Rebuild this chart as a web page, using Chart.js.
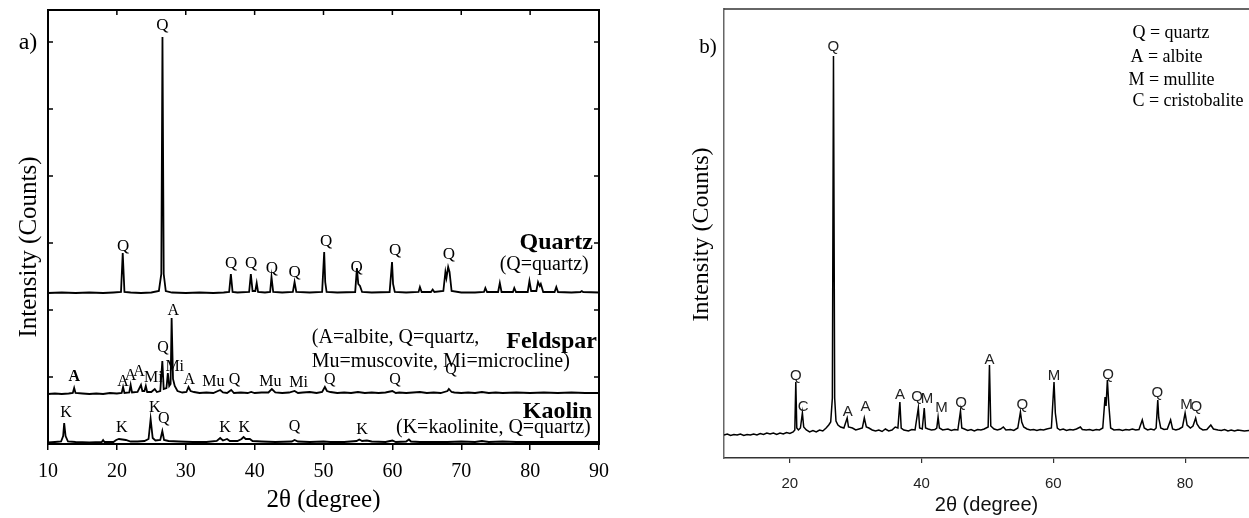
<!DOCTYPE html>
<html>
<head>
<meta charset="utf-8">
<script src="https://cdn.jsdelivr.net/npm/chart.js@4.4.0/dist/chart.umd.min.js"></script>
<style>
    html, body { margin: 0; padding: 0; background: #fff; overflow: hidden; width: 1249px; height: 518px; }
    canvas { position: absolute; top: 0; }
    #chartA { left: 0; }
    #chartB { left: 620px; }
</style>
</head>
<body>
<canvas id="chartA" width="620" height="518"></canvas>
<canvas id="chartB" width="629" height="518"></canvas>
<script>
/* ============================================
   XRD PATTERNS - a) raw materials, b) fired body
   ============================================ */

const serif = "'Liberation Serif', 'Times New Roman', serif";
const sans = "'Liberation Sans', Arial, sans-serif";

// Axis ticks
const xTicksA = [10, 20, 30, 40, 50, 60, 70, 80, 90];
const yTicksA = [67, 134, 201, 268, 335, 402];   // unlabelled inner ticks
const xTicksB = [20, 40, 60, 80];

// Panel a) patterns, [2theta, intensity] (traces already stacked)
const quartzA = [
    [10,151],[12,151.5],[14,151],[16,151.5],[18,151],[19.5,151.5],[20.6,152],[20.85,191],[21.1,152],
    [22,151.5],[23.5,151],[25,151.5],[26.1,153],[26.45,170],[26.62,407],[26.8,170],[27.1,153],
    [28,151.5],[30,151],[32,151.5],[34,151],[35.5,151.5],[36.3,152],[36.55,170],[36.8,152],
    [37.5,151.5],[39.2,152],[39.45,170],[39.7,153],[40.1,153],[40.3,161],[40.5,152],[41.5,151.5],
    [42.25,152],[42.45,167],[42.7,152],[44,151.5],[45.55,152],[45.8,162],[46.05,152],[48,151.5],
    [49.8,152],[50.1,192],[50.25,162],[50.45,152],[52,151.5],[54.6,152],[54.85,176],[55.05,160],
    [55.3,158],[55.6,152],[57,151.5],[59.6,152],[59.95,182],[60.1,160],[60.35,152],[62,151.5],
    [63.8,152],[64.0,157],[64.25,152],[65.6,152],[65.85,154.5],[66.1,152],[67.4,153],[67.7,172],
    [67.85,166],[68.1,177],[68.3,172],[68.6,153],[70,151.5],[72,151.5],[73.3,152],[73.5,156],
    [73.75,152],[75.35,152],[75.6,161],[75.85,152],[77.5,152],[77.7,156],[77.95,152],[79.65,152],
    [79.9,163],[80.15,153],[80.9,153],[81.15,162],[81.4,158],[81.55,160],[81.9,152],[83.55,152],
    [83.8,157],[84.05,152],[86,151.5],[87.3,152],[87.5,153],[87.7,152],[90,151.5]
];
const feldsparA = [
    [10,50],[11,50.5],[12,50],[13,50.5],[13.6,51],[13.8,56],[14.0,51],[15,50.5],[16,50],[17,50.5],
    [18,50],[19,51],[20,50.5],[20.7,51],[20.9,57],[21.1,51],[21.8,51.5],[22.0,59],[22.2,51.5],
    [23.0,52],[23.5,59],[23.7,53],[24.0,53],[24.2,58],[24.4,52],[25.0,52],[25.5,55],[25.8,52],
    [26.3,53],[26.6,83],[26.8,55],[27.2,56],[27.4,71],[27.6,58],[27.8,60],[27.95,126],[28.15,65],
    [28.4,58],[28.8,53],[29.5,51.5],[30.1,52],[30.4,57],[30.7,53],[31.2,52],[32,51],[33,51.5],
    [34,51],[35,54],[35.4,51.5],[36,51],[36.6,54],[37,51],[38,51.5],[39,51],[39.5,52],[40,51],
    [41,51.5],[42,51.5],[42.5,55],[43,51.5],[44,51],[45,51.5],[45.8,53],[46.3,51],[47,51.5],
    [48,52],[49,51],[49.8,52],[50.2,57],[50.5,53],[51,52],[52,51],[53,51.5],[54,51],[55,52],
    [56,51],[57,51.5],[58,51],[59,51.5],[60,53],[60.5,51],[61,51.5],[62,51],[63,51.5],[64,52],
    [65,51],[66,51.5],[67,51],[68,53],[68.2,55],[68.6,52],[69,51.5],[70,51],[71,51.5],[72,51],
    [73,52],[74,51],[75,51.5],[76,51],[78,51.5],[80,51],[82,51.5],[84,51],[86,51.5],[88,51],[90,51]
];
const kaolinA = [
    [10,1.5],[11,2],[11.9,2.5],[12.2,8],[12.35,21],[12.55,8],[12.9,2.5],[14,2],[16,1.5],[17.8,2],
    [18.0,4],[18.2,2],[19.5,2],[19.9,4],[20.3,5],[20.8,4.5],[21.3,4],[22,2.5],[23,2.5],[24,3],
    [24.6,5],[24.9,25],[25.2,6],[25.6,3.5],[26.3,4],[26.6,13],[26.85,4],[27.5,3],[29,2.5],[31,2],
    [33,2],[34.5,3],[35,6],[35.4,3.5],[36,5],[36.4,3],[37.5,3],[38.1,5],[38.4,7],[38.7,5],[39.3,5],
    [39.7,3],[41,2.5],[43,2],[45.4,2.5],[45.8,4],[46.3,2.5],[48,2],[50,2.5],[51,2],[53,2],[54.8,3],
    [55.2,4.5],[55.6,3],[56.3,3.5],[57,2.5],[59,2],[60,3.5],[60.5,2],[62,2.5],[62.4,4.5],[62.7,2.5],
    [64,2],[66,2],[68,2],[70,2.5],[72,2],[73,3],[74,2],[76,2.5],[78,2],[80,2],[82,2],[84,2],
    [86,2],[88,2],[90,2]
];

// Panel b) pattern, [2theta, intensity]
const sampleB = [
    [10,23],[10.5,24],[11,22.5],[11.5,23.5],[12,23],[12.5,24],[13,22.5],[13.5,23.5],[14,23],
    [14.5,24],[15,23],[15.5,24.5],[16,23.5],[16.5,25],[17,24],[17.5,25],[18,23.5],[18.5,25],
    [19,24],[19.5,25.5],[20,24.5],[20.5,26],[20.75,28],[20.9,76],[21.05,30],[21.3,28],[21.6,30],
    [21.9,45],[22.1,31],[22.5,28],[23,26],[23.5,27.5],[24,26],[24.5,28],[25,27],[25.5,30],
    [25.9,33],[26.2,36],[26.45,60],[26.62,402],[26.8,60],[27.0,37],[27.3,33],[27.7,31],[28.2,30],
    [28.7,40],[28.9,31],[29.5,30],[30,28],[30.5,29],[31,30],[31.3,40],[31.6,31],[32,30],[32.5,28],
    [33,27],[33.5,28],[34,26.5],[34.5,29],[35,27],[35.5,28],[36,31],[36.4,30],[36.7,56],[36.9,30],
    [37.3,28],[38,27],[38.5,28.5],[39,28],[39.5,50],[39.7,30],[40.1,29],[40.4,50],[40.6,30],
    [41,29],[41.5,28],[42,28.5],[42.3,30],[42.5,41],[42.7,30],[43.2,28],[44,29],[44.5,27.5],
    [45,28.5],[45.5,28],[45.9,47],[46.1,30],[46.5,29],[47,27.5],[47.5,28.5],[48,27],[48.5,28.5],
    [49,28],[49.5,29],[50.1,31],[50.3,93],[50.5,32],[51,29],[51.5,28],[52,29],[52.4,31],[52.8,28],
    [53.5,28.5],[54,27.5],[54.6,30],[55.0,46],[55.2,36],[55.5,31],[56,29],[56.5,28],[57,28.5],
    [57.5,27.5],[58,28.5],[58.5,28],[59,29],[59.7,30],[60.1,76],[60.3,45],[60.6,30],[61,28],
    [61.5,29],[62,27.5],[62.5,28.5],[63,28],[63.5,29],[64.1,31],[64.4,28.5],[65,28],[65.5,28.5],
    [66,27.5],[66.5,28.5],[67,28],[67.5,30],[67.85,61],[68.0,52],[68.2,78],[68.4,55],[68.7,30],
    [69.2,28],[70,28.5],[70.5,27.5],[71,28.5],[71.5,28],[72,29],[72.5,28],[73,28.5],[73.5,38],
    [73.8,30],[74.3,28],[74.8,29],[75.3,28],[75.6,30],[75.85,58],[76.0,40],[76.3,30],[76.8,28.5],
    [77.3,29],[77.8,38],[78.1,29],[78.6,28],[79.1,29],[79.6,31],[80.0,45],[80.3,33],[80.8,30],
    [81.2,32],[81.6,40],[81.8,34],[82.2,30],[82.7,28],[83.3,28.5],[83.9,33],[84.3,29],[85,28],
    [85.5,27.5],[86,28.5],[86.5,27],[87,28],[87.5,27],[88,28],[88.5,27.5],[89,27],[89.7,27.5]
];

// Phase labels, [2theta, intensity, text]
const peakLabelsQuartz = [
    [26.6,418,'Q'],[20.9,197,'Q'],[36.6,180,'Q'],[39.5,180,'Q'],[42.5,175,'Q'],[45.8,171,'Q'],
    [50.4,202,'Q'],[54.8,176,'Q'],[60.4,193,'Q'],[68.2,189,'Q']
];
const peakLabelsFeldspar = [
    [13.8,67,'A'],[20.9,62,'A'],[22.0,68,'A'],[23.2,72,'A'],[25.3,66,'Mi'],[26.7,96,'Q'],
    [28.4,77,'Mi'],[28.2,133,'A'],[30.5,64,'A'],[34.0,62,'Mu'],[37.1,64,'Q'],[42.3,62,'Mu'],
    [46.4,61,'Mi'],[50.9,64,'Q'],[60.4,64,'Q'],[68.5,74,'Q']
];
const peakLabelsKaolin = [
    [12.6,31,'K'],[20.7,16,'K'],[25.5,36,'K'],[26.8,25,'Q'],[35.7,16,'K'],[38.5,16,'K'],
    [45.8,17,'Q'],[55.6,14,'K']
];
const peakLabelsB = [
    [26.6,411,'Q'],[20.9,82,'Q'],[22.0,51,'C'],[28.8,46,'A'],[31.5,51,'A'],[36.7,63,'A'],
    [39.3,61,'Q'],[40.8,59,'M'],[43.0,50,'M'],[46.0,55,'Q'],[50.3,98,'A'],[55.3,53,'Q'],
    [60.1,82,'M'],[68.3,83,'Q'],[75.8,65,'Q'],[80.2,53,'M'],[81.7,51,'Q']
];

// Sample names and keys in panel a), [text, 2theta, intensity]
const sampleNames = [['Quartz', 89.1, 201], ['Feldspar', 89.7, 102], ['Kaolin', 89.0, 32]];
const sampleKeys = [
    ['(Q=quartz)', 88.5, 179, 'right'],
    ['(A=albite, Q=quartz,', 48.3, 106, 'left'],
    ['Mu=muscovite, Mi=microcline)', 48.3, 82, 'left'],
    ['(K=kaolinite, Q=quartz)', 88.8, 16, 'right']
];
// Legend in panel b), [text, 2theta, intensity]
const legendB = [
    ['Q = quartz', 72.0, 425], ['A = albite', 71.7, 401],
    ['M = mullite', 71.4, 378], ['C = cristobalite', 72.0, 357]
];

function toXY(points) {
    return points.map(p => ({ x: p[0], y: p[1] }));
}

function drawText(ctx, text, x, y, font, align, color) {
    ctx.font = font;
    ctx.fillStyle = color || '#000';
    ctx.textAlign = align || 'center';
    ctx.textBaseline = 'middle';
    ctx.fillText(text, x, y);
}

function drawRotated(ctx, text, x, y, font, color) {
    ctx.save();
    ctx.translate(x, y);
    ctx.rotate(-Math.PI / 2);
    drawText(ctx, text, 0, 0, font, 'center', color);
    ctx.restore();
}

const traceStyle = { borderColor: '#000', pointRadius: 0, tension: 0, fill: false };

// Frame, inner ticks and annotations for panel a)
const decorA = {
    id: 'decorA',
    afterDraw(chart) {
        const { ctx, chartArea: a, scales: { x, y } } = chart;
        ctx.save();
        ctx.strokeStyle = '#000';
        ctx.lineWidth = 2;
        ctx.strokeRect(a.left, a.top, a.right - a.left, a.bottom - a.top);
        ctx.lineWidth = 1.5;
        ctx.beginPath();
        xTicksA.forEach(v => {
            const px = x.getPixelForValue(v);
            ctx.moveTo(px, a.top);
            ctx.lineTo(px, a.top + 5);
        });
        yTicksA.forEach(v => {
            const py = y.getPixelForValue(v);
            ctx.moveTo(a.left, py);
            ctx.lineTo(a.left + 5, py);
            ctx.moveTo(a.right, py);
            ctx.lineTo(a.right - 5, py);
        });
        ctx.stroke();

        peakLabelsQuartz.forEach(([t, v, s]) => {
            drawText(ctx, s, x.getPixelForValue(t), y.getPixelForValue(v), '17px ' + serif);
        });
        peakLabelsFeldspar.forEach(([t, v, s], i) => {
            const font = (i === 0 ? 'bold ' : '') + '16px ' + serif;
            drawText(ctx, s, x.getPixelForValue(t), y.getPixelForValue(v), font);
        });
        peakLabelsKaolin.forEach(([t, v, s]) => {
            drawText(ctx, s, x.getPixelForValue(t), y.getPixelForValue(v), '16px ' + serif);
        });
        sampleNames.forEach(([s, t, v]) => {
            drawText(ctx, s, x.getPixelForValue(t), y.getPixelForValue(v), 'bold 24px ' + serif, 'right');
        });
        sampleKeys.forEach(([s, t, v, align]) => {
            drawText(ctx, s, x.getPixelForValue(t), y.getPixelForValue(v), '20px ' + serif, align);
        });

        drawText(ctx, 'a)', a.left - 20, a.top + 33, '24px ' + serif);
        drawRotated(ctx, 'Intensity (Counts)', a.left - 19, (a.top + a.bottom) / 2 + 20, '25px ' + serif);
        ctx.restore();
    }
};

// Top line and annotations for panel b)
const decorB = {
    id: 'decorB',
    afterDraw(chart) {
        const { ctx, chartArea: a, scales: { x, y } } = chart;
        ctx.save();
        ctx.strokeStyle = '#333';
        ctx.lineWidth = 1.5;
        ctx.beginPath();
        ctx.moveTo(a.left, a.top);
        ctx.lineTo(a.right, a.top);
        ctx.stroke();

        peakLabelsB.forEach(([t, v, s]) => {
            drawText(ctx, s, x.getPixelForValue(t), y.getPixelForValue(v), '15px ' + sans, 'center', '#222');
        });
        legendB.forEach(([s, t, v]) => {
            drawText(ctx, s, x.getPixelForValue(t), y.getPixelForValue(v), '18px ' + serif, 'left');
        });

        drawText(ctx, 'b)', a.left - 16, a.top + 38, '21px ' + serif);
        drawRotated(ctx, 'Intensity (Counts)', a.left - 22, (a.top + a.bottom) / 2 + 1, '24px ' + serif);
        ctx.restore();
    }
};

new Chart(document.getElementById('chartA'), {
    type: 'line',
    data: {
        datasets: [quartzA, feldsparA, kaolinA].map(d => ({ ...traceStyle, data: toXY(d), borderWidth: 1.8 }))
    },
    options: {
        responsive: false,
        animation: false,
        events: [],
        layout: { padding: { top: 10, right: 21, left: 0, bottom: 0 } },
        plugins: { legend: { display: false }, tooltip: { enabled: false } },
        scales: {
            x: {
                type: 'linear', min: 10, max: 90,
                afterBuildTicks: s => { s.ticks = xTicksA.map(v => ({ value: v })); },
                afterFit: s => { s.height = 74; },
                grid: { drawOnChartArea: false, tickLength: 6, color: '#000', lineWidth: 1.5 },
                border: { display: false },
                ticks: { color: '#000', padding: 10, autoSkip: false, maxRotation: 0, font: { family: serif, size: 20 } },
                title: { display: true, text: '2θ (degree)', color: '#000', font: { family: serif, size: 25 }, padding: { top: 0, bottom: 3 } }
            },
            y: {
                min: 0, max: 434,
                afterFit: s => { s.width = 48; },
                grid: { display: false },
                border: { display: false },
                ticks: { display: false }
            }
        }
    },
    plugins: [decorA]
});

new Chart(document.getElementById('chartB'), {
    type: 'line',
    data: {
        datasets: [{ ...traceStyle, data: toXY(sampleB), borderWidth: 1.5 }]
    },
    options: {
        responsive: false,
        animation: false,
        events: [],
        layout: { padding: { top: 9, right: 0, left: 0, bottom: 0 } },
        plugins: { legend: { display: false }, tooltip: { enabled: false } },
        scales: {
            x: {
                type: 'linear', min: 10, max: 89.7,
                afterBuildTicks: s => { s.ticks = xTicksB.map(v => ({ value: v })); },
                afterFit: s => { s.height = 60; },
                grid: { drawOnChartArea: false, tickLength: 5, color: '#333', lineWidth: 1.2 },
                border: { display: true, color: '#333', width: 1.5 },
                ticks: { color: '#222', padding: 12, autoSkip: false, maxRotation: 0, font: { family: sans, size: 15 } },
                title: { display: true, text: '2θ (degree)', color: '#111', font: { family: sans, size: 20 }, padding: { top: 0, bottom: 1 } }
            },
            y: {
                min: 0, max: 449,
                afterFit: s => { s.width = 104; },
                grid: { display: false },
                border: { display: true, color: '#666', width: 1.5 },
                ticks: { display: false }
            }
        }
    },
    plugins: [decorB]
});
</script>
</body>
</html>
